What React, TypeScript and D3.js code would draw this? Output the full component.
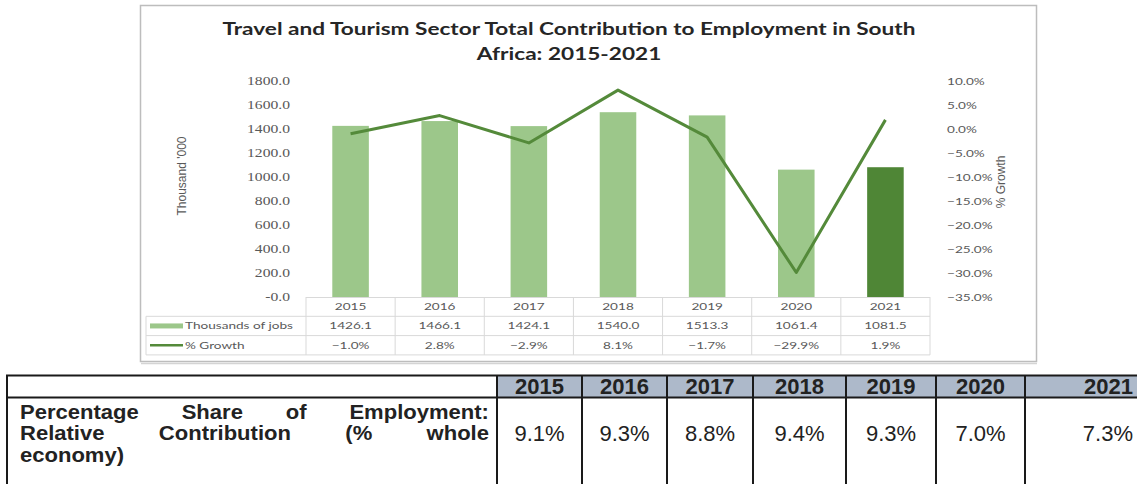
import React from 'react';
import * as d3 from 'd3';

// ---- data ----
const years = ['2015', '2016', '2017', '2018', '2019', '2020', '2021'];
const jobs = [1426.1, 1466.1, 1424.1, 1540.0, 1513.3, 1061.4, 1081.5];
const growth = [-1.0, 2.8, -2.9, 8.1, -1.7, -29.9, 1.9];
const shareOfEmployment = ['9.1%', '9.3%', '8.8%', '9.4%', '9.3%', '7.0%', '7.3%'];
const titleLines = [
  'Travel and Tourism Sector Total Contribution to Employment in South',
  'Africa: 2015-2021',
];
const seriesNames = ['Thousands of jobs', '% Growth'];
const leftAxisTitle = "Thousand '000";
const rightAxisTitle = '% Growth';
const rowLabelLines = [
  { words: ['Percentage', 'Share', 'of', 'Employment:'], justify: true },
  { words: ['Relative', 'Contribution', '(%', 'whole'], justify: true },
  { words: ['economy)'], justify: false },
];

// ---- layout ----
const W = 1137;
const H = 484;
const frameL = 140;
const frameR = 1037;
const plotL = 306;
const plotR = 930;
const plotT = 81;
const plotB = 297;
const rowH = 19.3;
const legendL = 146;
const SX = 1.36; // the chart picture is stretched horizontally

const chartFont = 'Lato, "Open Sans", sans-serif';
const serifFont = '"Liberation Serif", serif';
const tableFont = '"Liberation Sans", Arial, sans-serif';

const lightGreen = '#9cc78a';
const darkGreen = '#4f8636';
const lineGreen = '#548a3a';
const textGray = '#595959';
const gridGray = '#d9d9d9';

// bottom table columns (separators)
const colSep = [497, 582, 667, 753, 846, 936, 1025, 1180];
const tblTop = 375.5;
const tblHeadB = 397.5;

let measureCtx: CanvasRenderingContext2D | null = null;
function measure(text: string, font: string) {
  if (!measureCtx) {
    const c = document.createElement('canvas');
    measureCtx = c.getContext('2d');
  }
  if (!measureCtx) return text.length * 10;
  measureCtx.font = font;
  return measureCtx.measureText(text).width;
}

function SText(props: any) {
  const { x, y, sx = SX, anchor = 'start', children, ...rest } = props;
  return (
    <text transform={`translate(${x},${y}) scale(${sx},1)`} textAnchor={anchor} {...rest}>
      {children}
    </text>
  );
}

export default function App() {
  const x = d3.scaleBand<string>().domain(years).range([plotL, plotR]).padding(0);
  const bw = x.bandwidth();
  const barW = bw * 0.41;
  const yL = d3.scaleLinear().domain([0, 1800]).range([plotB, plotT]);
  const yR = d3.scaleLinear().domain([-35, 10]).range([plotB, plotT]);
  const leftTicks = yL.ticks(9);
  const rightTicks = yR.ticks(9);
  const fmtL = (d: number) => (d === 0 ? '-0.0' : d3.format('.1f')(d));
  const fmtR = (d: number) => d3.format('.1f')(d) + '%';

  const line = d3
    .line<number>()
    .x((_, i) => (x(years[i]) as number) + bw / 2)
    .y((d) => yR(d));

  const rowFontSize = 22;
  const labelFontSize = 19.5;
  const labelSX = 1.13;
  const labelFont = `bold ${labelFontSize}px "Liberation Sans"`;
  const textL = 20;
  const textR = 489;

  return (
    <svg
      width={W}
      height={H}
      viewBox={`0 0 ${W} ${H}`}
      style={{ position: 'absolute', left: 0, top: 0, display: 'block', background: '#fff' }}
    >
      {/* chart frame */}
      <rect x={frameL + 0.5} y={5.5} width={frameR - frameL - 1} height={356} fill="#fff" stroke="#bdbdbd" strokeWidth={1.5} />
      <line x1={frameL + 1} x2={frameR} y1={363.5} y2={363.5} stroke="#d4d4d4" strokeWidth={1.5} />

      {/* title */}
      {titleLines.map((t, i) => (
        <SText
          key={i}
          x={569}
          y={35 + i * 25}
          sx={1.33}
          anchor="middle"
          fontFamily={chartFont}
          fontWeight="bold"
          fontSize={17}
          fill="#262626"
        >
          {t}
        </SText>
      ))}

      {/* left axis labels */}
      {leftTicks.map((t) => (
        <SText
          key={t}
          x={290}
          y={yL(t) + 4}
          anchor="end"
          fontFamily={serifFont}
          fontSize={11.5}
          fill={textGray}
        >
          {fmtL(t)}
        </SText>
      ))}
      {/* right axis labels */}
      {rightTicks.map((t) => (
        <SText
          key={t}
          x={947}
          y={yR(t) + 3.5}
          anchor="start"
          fontFamily={chartFont}
          fontSize={10}
          fill={textGray}
        >
          {fmtR(t)}
        </SText>
      ))}
      {/* axis titles */}
      <text
        transform={`translate(186,176) rotate(-90)`}
        textAnchor="middle"
        fontFamily={'"Liberation Sans Narrow", "Liberation Sans", sans-serif'}
        fontSize={12}
        fill={textGray}
      >
        {leftAxisTitle}
      </text>
      <text
        transform={`translate(1005,182) rotate(-90)`}
        textAnchor="middle"
        fontFamily={'"Liberation Sans Narrow", "Liberation Sans", sans-serif'}
        fontSize={12}
        fill={textGray}
      >
        {rightAxisTitle}
      </text>

      {/* bars */}
      {jobs.map((v, i) => (
        <rect
          key={i}
          x={(x(years[i]) as number) + (bw - barW) / 2}
          y={yL(v)}
          width={barW}
          height={yL(0) - yL(v)}
          fill={i === jobs.length - 1 ? darkGreen : lightGreen}
        />
      ))}

      {/* growth line */}
      <path d={line(growth) || ''} fill="none" stroke={lineGreen} strokeWidth={3} strokeLinejoin="round" />

      {/* data table grid */}
      <g stroke={gridGray} strokeWidth={1}>
        <line x1={plotL} x2={plotR} y1={plotB + 0.5} y2={plotB + 0.5} />
        {[1, 2, 3].map((r) => (
          <line key={r} x1={legendL} x2={plotR} y1={plotB + r * rowH} y2={plotB + r * rowH} />
        ))}
        <line x1={legendL} x2={legendL} y1={plotB + rowH} y2={plotB + 3 * rowH} />
        {d3.range(years.length + 1).map((i) => (
          <line key={i} x1={plotL + i * bw} x2={plotL + i * bw} y1={plotB} y2={plotB + 3 * rowH} />
        ))}
      </g>
      {years.map((yr, i) => {
        const cx = (x(yr) as number) + bw / 2;
        return (
          <g key={yr} fontFamily={chartFont} fontSize={10} fill={textGray}>
            <SText x={cx} y={plotB + rowH * 0.5 + 3.5} anchor="middle">{yr}</SText>
            <SText x={cx} y={plotB + rowH * 1.5 + 3.5} anchor="middle">{d3.format('.1f')(jobs[i])}</SText>
            <SText x={cx} y={plotB + rowH * 2.5 + 3.5} anchor="middle">{d3.format('.1f')(growth[i]) + '%'}</SText>
          </g>
        );
      })}
      {/* legend keys */}
      <rect x={150} y={plotB + rowH * 1.5 - 2.5} width={33} height={5} fill={lightGreen} />
      <line x1={150} x2={183} y1={plotB + rowH * 2.5} y2={plotB + rowH * 2.5} stroke={lineGreen} strokeWidth={2.5} />
      <SText x={185} y={plotB + rowH * 1.5 + 3.5} fontFamily={chartFont} fontSize={10} fill={textGray}>
        {seriesNames[0]}
      </SText>
      <SText x={185} y={plotB + rowH * 2.5 + 3.5} fontFamily={chartFont} fontSize={10} fill={textGray}>
        {seriesNames[1]}
      </SText>

      {/* bottom table */}
      <rect x={colSep[0]} y={tblTop} width={W - colSep[0]} height={tblHeadB - tblTop} fill="#adb9ca" />
      <g stroke="#1a1a1a" strokeWidth={2}>
        <line x1={6} x2={W} y1={tblTop} y2={tblTop} />
        <line x1={6} x2={W} y1={tblHeadB} y2={tblHeadB} />
        <line x1={7} x2={7} y1={tblTop} y2={H} />
        {colSep.slice(0, 7).map((s) => (
          <line key={s} x1={s} x2={s} y1={tblTop} y2={H} />
        ))}
      </g>
      {years.map((yr, i) => {
        const last = i === years.length - 1;
        const cx = last ? 1133 : (colSep[i] + colSep[i + 1]) / 2;
        return (
          <g key={yr} fontFamily={tableFont} fontSize={rowFontSize} fill="#222" textAnchor={last ? 'end' : 'middle'}>
            <text x={cx} y={tblHeadB - 3.5} fontWeight="bold">{yr}</text>
            <text x={cx} y={441}>{shareOfEmployment[i]}</text>
          </g>
        );
      })}
      <text
        transform={`scale(${labelSX},1)`}
        fontFamily={tableFont}
        fontWeight="bold"
        fontSize={labelFontSize}
        fill="#222"
      >
        {rowLabelLines.map((ln, li) => {
          const widths = ln.words.map((w) => measure(w, labelFont) * labelSX);
          const total = widths.reduce((a, b) => a + b, 0);
          const gap =
            ln.justify && ln.words.length > 1
              ? (textR - textL - total) / (ln.words.length - 1)
              : measure(' ', labelFont) * labelSX;
          let cur = textL;
          return ln.words.map((w, wi) => {
            const el = (
              <tspan key={`${li}-${wi}`} x={cur / labelSX} y={419 + li * 21.5}>
                {w}
              </tspan>
            );
            cur += widths[wi] + gap;
            return el;
          });
        })}
      </text>
    </svg>
  );
}
